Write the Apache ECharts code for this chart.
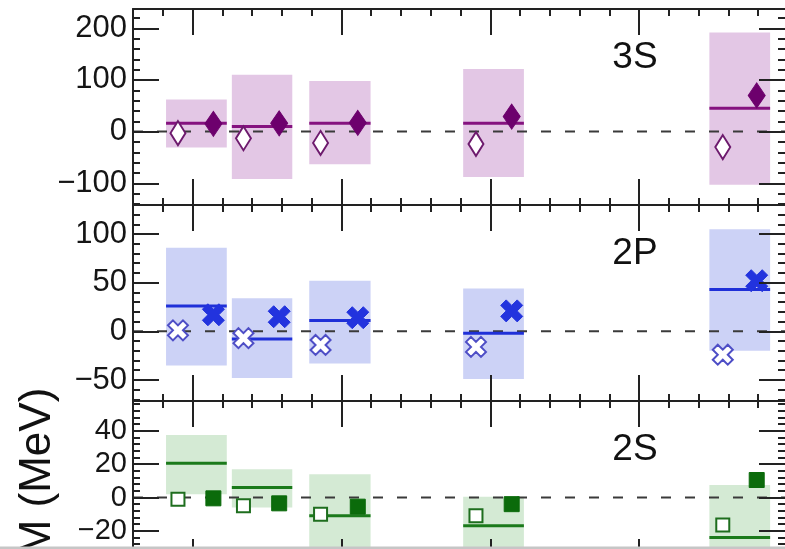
<!DOCTYPE html>
<html><head><meta charset="utf-8">
<script src="https://cdn.jsdelivr.net/npm/echarts@6/dist/echarts.min.js"></script>
<style>html,body{margin:0;padding:0;background:#fff;overflow:hidden;width:785px;height:549px}#c{width:785px;height:549px}</style>
</head><body><div id="c"></div><script>
// ---- x positions (shared by all three panels) ----
const X_MIN = 0, X_MAX = 21.9;
const groupLo = [1.11, 3.32, 5.92, 11.09, 19.36];
const groupHi = [3.15, 5.35, 7.98, 13.13, 21.40];
const xOpen   = [1.51, 3.71, 6.30, 11.52, 19.81];
const xFilled = [2.70, 4.91, 7.55, 12.72, 20.95];
const zeroRef = 0;

// ---- 3S ----
const s3BoxLow  = [-31, -92, -63, -88, -103];
const s3BoxHigh = [62, 110, 98, 121, 192];
const s3Central = [16, 10, 16, 16, 45];
const s3Open    = [-3, -13, -22, -24, -30];
const s3Filled  = [15, 16, 17, 29, 70];

// ---- 2P ----
const p2BoxLow  = [-35, -48, -33, -49, -20];
const p2BoxHigh = [86, 34, 52, 44, 105];
const p2Central = [26, -8, 11, -2, 43];
const p2Open    = [1, -7, -14, -16, -24];
const p2Filled  = [17, 15, 14, 21, 52];

// ---- 2S ----
const s2BoxLow  = [2, -6, -36, -35, -56];
const s2BoxHigh = [37.5, 17, 14, 0.5, 7.5];
const s2Central = [20.5, 6, -11, -17, -24];
const s2Open    = [-1, -5, -10, -11, -16.5];
const s2Filled  = [-0.5, -3.5, -5.5, -4, 10.5];

// ---- ticks ----
const xMajorTicks = [2, 7, 12, 17];
const xMinorTicks = [1, 3, 4, 5, 6, 8, 9, 10, 11, 13, 14, 15, 16, 18, 19, 20, 21];
const s3MajorTicks = [-100, 0, 100, 200];
const s3MinorTicks = [-140, -120, -80, -60, -40, -20, 20, 40, 60, 80, 120, 140, 160, 180, 220];
const p2MajorTicks = [-50, 0, 50, 100];
const p2MinorTicks = [-70, -60, -40, -30, -20, -10, 10, 20, 30, 40, 60, 70, 80, 90, 110, 120];
const s2MajorTicks = [-20, 0, 20, 40];
const s2MinorTicks = [-36, -32, -28, -24, -16, -12, -8, -4, 4, 8, 12, 16, 24, 28, 32, 36, 44, 48, 52, 56];

const panelNames = ['3S', '2P', '2S'];
const yAxisTitle = 'M (MeV)';

const FONT = "'Liberation Sans', Arial, Helvetica, sans-serif";
const AX = '#222222';
const XPATH = 'path://M2.5,0L5,2.5L7.5,0L10,2.5L7.5,5L10,7.5L7.5,10L5,7.5L2.5,10L0,7.5L2.5,5L0,2.5Z';

const panels = [
  {lo: s3BoxLow, hi: s3BoxHigh, central: s3Central, open: s3Open, filled: s3Filled,
   major: s3MajorTicks, minor: s3MinorTicks, min: -142.1, max: 237.3, top: 9, height: 196, labelSize: 31,
   box: '#e3c7e5', line: '#85127f', fill: '#6d006d', stroke: '#6d1a6d',
   symbol: 'diamond', sizeF: [17, 25], sizeO: [15, 24], textY: 58},
  {lo: p2BoxLow, hi: p2BoxHigh, central: p2Central, open: p2Open, filled: p2Filled,
   major: p2MajorTicks, minor: p2MinorTicks, min: -71.6, max: 129.8, top: 205, height: 196, labelSize: 31,
   box: '#ccd2f6', line: '#1f30d8', fill: '#2233de', stroke: '#4e4ec6',
   symbol: XPATH, sizeF: 22, sizeO: 20, textY: 254},
  {lo: s2BoxLow, hi: s2BoxHigh, central: s2Central, open: s2Open, filled: s2Filled,
   major: s2MajorTicks, minor: s2MinorTicks, min: -40.5, max: 57.9, top: 401, height: 164, labelSize: 29,
   box: '#d4ead4', line: '#1b7a1b', fill: '#0b6b0b', stroke: '#1e6e1e',
   symbol: 'rect', sizeF: 15, sizeO: 13, textY: 450}
];

const grid = [], xAxis = [], yAxis = [], series = [];
const tickStyle = {color: AX, width: 2};
const minusFmt = v => String(v).replace('-', '\u2212');

panels.forEach((p, g) => {
  grid.push({left: 133, top: p.top, width: 652, height: p.height, outerBoundsMode: 'none', containLabel: false});
  const xb = {type: 'value', gridIndex: g, min: X_MIN, max: X_MAX, z: 10, splitLine: {show: false}, axisLabel: {show: false}};
  const lineOn = {show: true, onZero: false, lineStyle: {color: AX, width: 2}};
  const lineOff = {show: false, onZero: false};
  xAxis.push(Object.assign({}, xb, {position: 'bottom', axisLine: lineOn,
    axisTick: {show: true, inside: true, length: 26, customValues: xMajorTicks, lineStyle: tickStyle}}));
  xAxis.push(Object.assign({}, xb, {position: 'bottom', axisLine: lineOff,
    axisTick: {show: true, inside: true, length: 7, customValues: xMinorTicks, lineStyle: tickStyle}}));
  xAxis.push(Object.assign({}, xb, {position: 'top', axisLine: lineOn,
    axisTick: {show: true, inside: true, length: 26, customValues: xMajorTicks, lineStyle: tickStyle}}));
  xAxis.push(Object.assign({}, xb, {position: 'top', axisLine: lineOff,
    axisTick: {show: true, inside: true, length: 7, customValues: xMinorTicks, lineStyle: tickStyle}}));

  const yb = {type: 'value', gridIndex: g, min: p.min, max: p.max, z: 10, splitLine: {show: false}, axisLabel: {show: false}};
  yAxis.push(Object.assign({}, yb, {position: 'left', axisLine: lineOn,
    axisTick: {show: true, inside: true, length: 26, customValues: p.major, lineStyle: tickStyle},
    axisLabel: {show: true, customValues: p.major, formatter: minusFmt, margin: 6,
      fontFamily: FONT, fontSize: p.labelSize, color: '#151515'}}));
  yAxis.push(Object.assign({}, yb, {position: 'left', axisLine: lineOff,
    axisTick: {show: true, inside: true, length: 7, customValues: p.minor, lineStyle: tickStyle}}));
  yAxis.push(Object.assign({}, yb, {position: 'right', axisLine: lineOff,
    axisTick: {show: true, inside: true, length: 26, customValues: p.major, lineStyle: tickStyle}}));
  yAxis.push(Object.assign({}, yb, {position: 'right', axisLine: lineOff,
    axisTick: {show: true, inside: true, length: 7, customValues: p.minor, lineStyle: tickStyle}}));

  const xi = g * 4, yi = g * 4;
  // shaded boxes
  series.push({type: 'custom', xAxisIndex: xi, yAxisIndex: yi, z: 1, silent: true,
    data: groupLo.map((v, i) => [v, groupHi[i], p.lo[i], p.hi[i]]),
    encode: {x: [0, 1], y: [2, 3]},
    renderItem: (params, api) => {
      const a = api.coord([api.value(0), api.value(3)]);
      const b = api.coord([api.value(1), api.value(2)]);
      return {type: 'rect', shape: {x: a[0], y: a[1], width: b[0] - a[0], height: b[1] - a[1]},
        style: {fill: p.box}};
    }});
  // dashed zero reference
  series.push({type: 'custom', xAxisIndex: xi, yAxisIndex: yi, z: 2, silent: true,
    data: [[X_MIN, X_MAX, zeroRef]], encode: {x: [0, 1], y: 2},
    renderItem: (params, api) => {
      const a = api.coord([api.value(0), api.value(2)]);
      const b = api.coord([api.value(1), api.value(2)]);
      return {type: 'line', shape: {x1: a[0], y1: a[1], x2: b[0], y2: b[1]},
        style: {stroke: '#3a3a3a', lineWidth: 2, lineDash: [10, 14]}};
    }});
  // central lines
  series.push({type: 'custom', xAxisIndex: xi, yAxisIndex: yi, z: 3, silent: true,
    data: groupLo.map((v, i) => [v, groupHi[i], p.central[i]]), encode: {x: [0, 1], y: 2},
    renderItem: (params, api) => {
      const a = api.coord([api.value(0), api.value(2)]);
      const b = api.coord([api.value(1), api.value(2)]);
      return {type: 'line', shape: {x1: a[0], y1: a[1], x2: b[0], y2: b[1]},
        style: {stroke: p.line, lineWidth: 3}};
    }});
  // open markers
  series.push({type: 'scatter', xAxisIndex: xi, yAxisIndex: yi, z: 4, silent: true,
    symbol: p.symbol, symbolSize: p.sizeO,
    itemStyle: {color: '#ffffff', borderColor: p.stroke, borderWidth: 2, opacity: 1},
    data: xOpen.map((x, i) => [x, p.open[i]])});
  // filled markers
  series.push({type: 'scatter', xAxisIndex: xi, yAxisIndex: yi, z: 5, silent: true,
    symbol: p.symbol, symbolSize: p.sizeF,
    itemStyle: {color: p.fill, borderColor: p.fill, borderWidth: 1, opacity: 1},
    data: xFilled.map((x, i) => [x, p.filled[i]])});
});

const graphic = panels.map((p, g) => ({
  type: 'text', x: 635, y: p.textY, z: 10, silent: true,
  style: {text: panelNames[g], fontFamily: FONT, fontSize: 37, fill: '#111',
    textAlign: 'center', textVerticalAlign: 'middle'}
}));
graphic.push({type: 'text', x: 38, y: 472, rotation: Math.PI / 2, z: 10, silent: true,
  style: {text: yAxisTitle, fontFamily: FONT, fontSize: 44, fill: '#111',
    textAlign: 'center', textVerticalAlign: 'middle'}});
graphic.push({type: 'rect', shape: {x: 0, y: 546.5, width: 785, height: 3}, z: 20, silent: true,
  style: {fill: '#c6c6c6'}});

const chart = echarts.init(document.getElementById('c'), null, {renderer: 'canvas'});
chart.setOption({
  animation: false,
  backgroundColor: '#ffffff',
  grid, xAxis, yAxis, series, graphic
});
</script></body></html>
